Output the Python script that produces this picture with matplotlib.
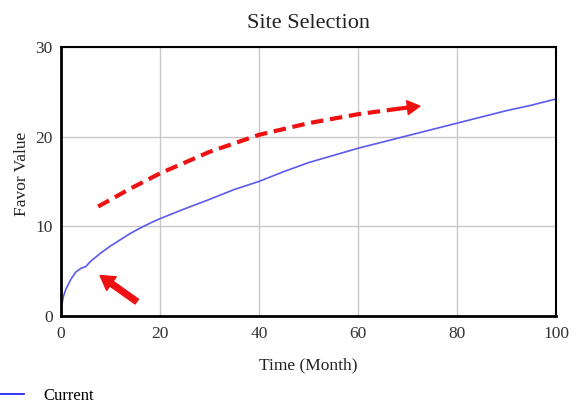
import matplotlib
matplotlib.use('Agg')
import matplotlib.pyplot as plt

plt.rcParams['font.family'] = ['Liberation Serif', 'DejaVu Serif']

# Blue curve "Current"
time = [0, 0.5, 1, 2, 3, 4, 5, 6, 8, 10, 12, 14, 16, 18, 20, 25, 30, 35, 40,
        45, 50, 55, 60, 65, 70, 75, 80, 85, 90, 95, 100]
favor = [0.8, 2.2, 3.0, 4.1, 4.9, 5.3, 5.5, 6.1, 7.0, 7.8, 8.5, 9.2, 9.8, 10.35,
         10.85, 11.95, 13.0, 14.1, 15.0, 16.1, 17.1, 17.9, 18.7, 19.4, 20.1,
         20.8, 21.5, 22.2, 22.9, 23.5, 24.2]

# red dashed trend arrow
trend_t = [7.5, 14, 20, 30, 40, 50, 60, 68]
trend_v = [12.2, 14.2, 15.9, 18.3, 20.2, 21.5, 22.5, 23.1]
trend_tip = (72.5, 23.4)

# red solid arrow (tail -> tip)
arrow_tail = (15.3, 1.6)
arrow_tip = (7.9, 4.5)

xticks = [0, 20, 40, 60, 80, 100]
yticks = [0, 10, 20, 30]

fig = plt.figure(figsize=(5.81, 4.05), dpi=100)
ax = fig.add_axes([0.105, 0.22, 0.852, 0.664])

line, = ax.plot(time, favor, color='#5a5af0', lw=1.2, label='Current')

ax.plot(trend_t, trend_v, color='#ee1111', lw=3, ls=(0, (3, 1.6)))
ax.annotate('', xy=trend_tip, xytext=(trend_t[-1], trend_v[-1]),
            arrowprops=dict(arrowstyle='simple,head_width=1.0,head_length=0.9,tail_width=0.2',
                            color='#ee1111', mutation_scale=10, shrinkA=0, shrinkB=0))
ax.annotate('', xy=arrow_tip, xytext=arrow_tail,
            arrowprops=dict(arrowstyle='simple,head_width=1.2,head_length=1.0,tail_width=0.42',
                            color='#ee1111', mutation_scale=10, shrinkA=0, shrinkB=0))

ax.set_xlim(0, 100)
ax.set_ylim(0, 30)
ax.set_xticks(xticks)
ax.set_yticks(yticks)
ax.grid(True, color='#c8c8c8', lw=1)
ax.set_axisbelow(True)
ax.tick_params(length=0, labelsize=12.5, colors='#333333')
ax.tick_params(axis='x', pad=7)
ax.tick_params(axis='y', pad=6)
for side in ['left', 'bottom']:
    ax.spines[side].set_linewidth(2)
for side in ['top', 'right']:
    ax.spines[side].set_linewidth(1.5)

ax.set_title('Site Selection', fontsize=16, color='#222222', pad=14)
ax.set_xlabel('Time (Month)', fontsize=12.5, color='#222222', labelpad=11)
ax.set_ylabel('Favor Value', fontsize=12.5, color='#222222')
ax.yaxis.set_label_coords(-0.063, 0.528)

leg = fig.legend(handles=[line], loc='lower left', bbox_to_anchor=(-0.005, -0.005),
                 frameon=False, fontsize=12, handlelength=1.4, handletextpad=1.2,
                 borderpad=0.2, borderaxespad=0)
leg.get_lines()[0].set_color('#1010ff')

fig.savefig('out.png', dpi=100)
